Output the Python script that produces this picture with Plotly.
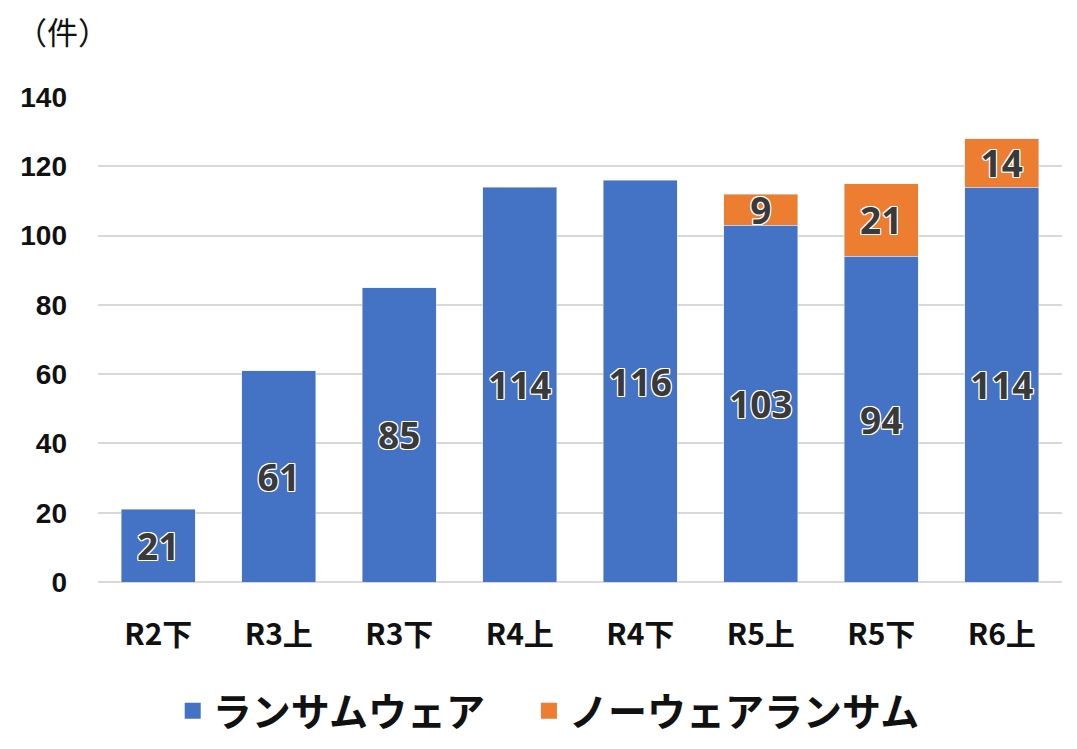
import plotly.graph_objects as go

categories = ["R2下", "R3上", "R3下", "R4上", "R4下", "R5上", "R5下", "R6上"]
ransomware = [21, 61, 85, 114, 116, 103, 94, 114]
noware = [None, None, None, None, None, 9, 21, 14]
series_names = ["ランサムウェア", "ノーウェアランサム"]
series_colors = ["#4472C4", "#ED7D31"]
y_ticks = [0, 20, 40, 60, 80, 100, 120, 140]

outline = ("-1px -1px 0 #fff, 1px -1px 0 #fff, -1px 1px 0 #fff, 1px 1px 0 #fff, "
           "0 -1px 0 #fff, 0 1px 0 #fff, -1px 0 0 #fff, 1px 0 0 #fff")
label_font = dict(family="Liberation Sans Narrow, Noto Sans, sans-serif", size=37,
                  weight="bold", color="#3a3a3a", shadow=outline)

fig = go.Figure()
for vals, name, color in [(ransomware, series_names[0], series_colors[0]),
                          (noware, series_names[1], series_colors[1])]:
    fig.add_trace(go.Bar(
        x=categories, y=vals, name=name, marker_color=color, showlegend=False,
        text=["" if v is None else str(v) for v in vals], textposition="inside",
        insidetextanchor="middle", constraintext="none", textfont=label_font, textangle=0,
    ))
# legend proxies with larger square swatches (extra spacing after first entry)
legend_labels = [series_names[0] + "\u3000", series_names[1]]
for name, color in zip(legend_labels, series_colors):
    fig.add_trace(go.Scatter(
        x=[None], y=[None], mode="markers", name=name,
        marker=dict(symbol="square", size=20, color=color),
    ))

fig.update_layout(
    barmode="stack",
    bargap=0.385,
    width=1077, height=749,
    margin=dict(l=90, r=23, t=89, b=175, autoexpand=False),
    plot_bgcolor="white", paper_bgcolor="white",
    font=dict(family="Noto Sans CJK JP, sans-serif", color="#111"),
    xaxis=dict(tickfont=dict(size=30, family="Noto Sans CJK JP", weight="bold", color="#111"),
               ticks="", showline=False, ticklabelstandoff=32, automargin=False),
    yaxis=dict(range=[0, 140], tickvals=y_ticks, showgrid=True, gridcolor="#d9d9d9",
               gridwidth=2, zeroline=True, zerolinecolor="#d9d9d9", zerolinewidth=2,
               tickfont=dict(size=28, family="Liberation Sans, Noto Sans", weight="bold", color="#111"),
               ticklabelstandoff=30, automargin=False),
    legend=dict(orientation="h", x=0.0775, xanchor="left", y=-0.20, yanchor="top",
                traceorder="normal", itemsizing="trace",
                font=dict(size=39, family="Noto Sans CJK JP", weight="bold", color="#111"),
                itemwidth=30, tracegroupgap=0),
    annotations=[dict(text="（件）", x=0.0, y=1.0, xref="paper", yref="paper",
                      xshift=-84, yshift=42, xanchor="left", yanchor="bottom",
                      showarrow=False,
                      font=dict(size=31, family="Noto Sans CJK JP", color="#111"))],
)

fig.write_html("out.html")
